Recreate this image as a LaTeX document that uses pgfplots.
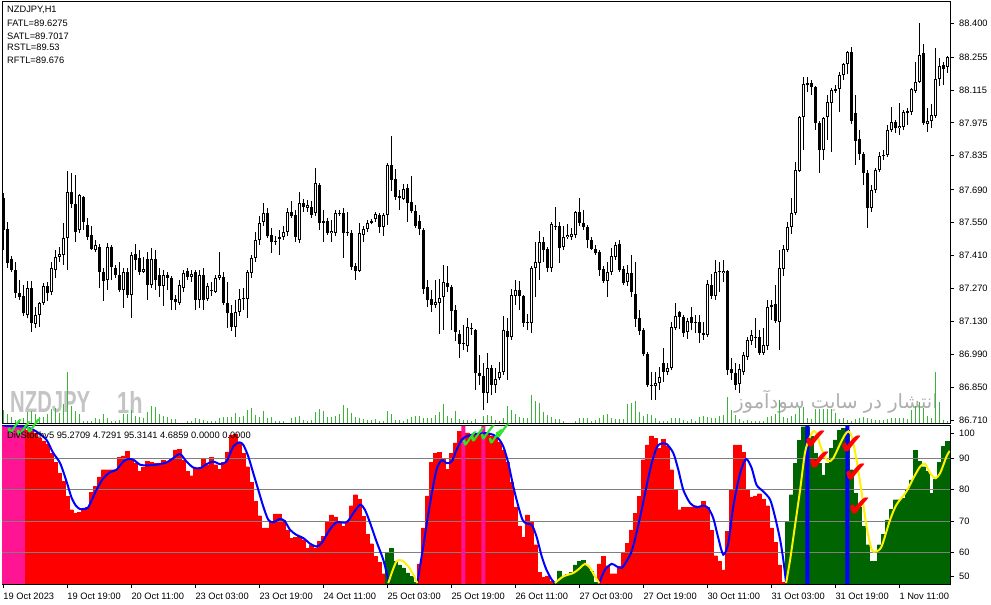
\documentclass[border=0pt]{standalone}
\usepackage{graphicx}
\usepackage{fontspec}
\setmainfont{Liberation Sans}
\newfontfamily\dejavu{DejaVu Sans}
\newfontfamily\arabicfont[Script=Arabic]{DejaVu Sans}
\TeXXeTstate=1
\usepackage{pgfplots}
\usepackage{pgfplotstable}
\pgfplotsset{compat=1.18}
\definecolor{volgreen}{RGB}{60,180,60}
\definecolor{dgreen}{RGB}{0,100,0}
\definecolor{dpink}{RGB}{255,20,147}
\definecolor{lvlgray}{RGB}{128,128,128}
\definecolor{wm}{RGB}{196,196,196}
\definecolor{wm2}{RGB}{175,175,175}
\definecolor{chkgreen}{RGB}{40,230,40}
\newcommand\tf{\fontsize{9.3bp}{11bp}\selectfont}

\pgfplotstableread{
i o h l c v
0 87.656 87.676 87.434 87.519 140
1 87.523 87.552 87.358 87.378 100
2 87.395 87.408 87.340 87.349 70
3 87.349 87.383 87.230 87.250 40
4 87.250 87.306 87.221 87.234 50
5 87.238 87.285 87.153 87.165 60
6 87.157 87.302 87.144 87.272 120
7 87.272 87.302 87.084 87.123 130
8 87.119 87.191 87.102 87.157 100
9 87.157 87.212 87.106 87.208 70
10 87.208 87.293 87.199 87.281 70
11 87.281 87.298 87.217 87.250 100
12 87.255 87.383 87.242 87.358 150
13 87.349 87.434 87.315 87.404 160
14 87.404 87.447 87.383 87.417 110
15 87.413 87.549 87.370 87.485 200
16 87.485 87.770 87.349 87.681 520
17 87.681 87.762 87.613 87.630 180
18 87.630 87.753 87.468 87.510 130
19 87.519 87.672 87.506 87.668 100
20 87.660 87.664 87.519 87.553 30
21 87.540 87.570 87.476 87.489 30
22 87.498 87.536 87.434 87.438 30
23 87.434 87.476 87.425 87.455 60
24 87.447 87.459 87.272 87.340 50
25 87.340 87.358 87.217 87.302 100
26 87.306 87.464 87.263 87.447 60
27 87.447 87.455 87.306 87.362 30
28 87.358 87.370 87.315 87.328 30
29 87.328 87.383 87.255 87.263 40
30 87.263 87.358 87.187 87.340 100
31 87.340 87.358 87.230 87.242 100
32 87.242 87.425 87.144 87.413 140
33 87.417 87.459 87.349 87.391 80
34 87.400 87.434 87.328 87.340 70
35 87.340 87.404 87.336 87.353 60
36 87.395 87.425 87.221 87.285 120
37 87.285 87.442 87.272 87.395 180
38 87.395 87.434 87.263 87.306 170
39 87.328 87.358 87.234 87.281 100
40 87.281 87.349 87.195 87.328 80
41 87.328 87.340 87.263 87.315 70
42 87.315 87.323 87.178 87.221 50
43 87.225 87.242 87.178 87.212 50
44 87.208 87.306 87.199 87.285 10
45 87.272 87.349 87.255 87.336 10
46 87.345 87.358 87.306 87.319 30
47 87.319 87.349 87.298 87.332 30
48 87.340 87.349 87.178 87.221 60
49 87.221 87.349 87.187 87.328 50
50 87.328 87.358 87.178 87.221 40
51 87.225 87.293 87.217 87.281 30
52 87.263 87.298 87.238 87.259 30
53 87.255 87.328 87.250 87.315 30
54 87.315 87.425 87.306 87.328 60
55 87.319 87.340 87.199 87.208 70
56 87.208 87.298 87.102 87.165 70
57 87.165 87.199 87.089 87.106 70
58 87.106 87.221 87.063 87.170 110
59 87.170 87.268 87.153 87.225 70
60 87.225 87.272 87.178 87.230 80
61 87.225 87.349 87.144 87.340 140
62 87.336 87.413 87.315 87.400 160
63 87.400 87.510 87.383 87.476 90
64 87.476 87.578 87.455 87.549 70
65 87.553 87.634 87.536 87.591 130
66 87.591 87.613 87.485 87.493 60
67 87.498 87.527 87.421 87.468 70
68 87.472 87.493 87.455 87.468 30
69 87.481 87.519 87.413 87.489 30
70 87.489 87.536 87.476 87.510 30
71 87.510 87.613 87.493 87.596 10
72 87.596 87.643 87.570 87.578 60
73 87.583 87.604 87.468 87.489 70
74 87.476 87.681 87.464 87.634 80
75 87.634 87.651 87.596 87.617 40
76 87.613 87.647 87.596 87.626 30
77 87.617 87.643 87.570 87.583 40
78 87.591 87.783 87.578 87.719 120
79 87.711 87.719 87.519 87.549 150
80 87.557 87.604 87.468 87.549 130
81 87.557 87.570 87.498 87.506 70
82 87.506 87.561 87.468 87.515 70
83 87.506 87.604 87.493 87.591 80
84 87.591 87.604 87.578 87.587 100
85 87.591 87.613 87.400 87.506 190
86 87.510 87.596 87.493 87.506 160
87 87.506 87.519 87.349 87.362 110
88 87.366 87.378 87.306 87.345 70
89 87.345 87.549 87.340 87.506 60
90 87.498 87.536 87.468 87.523 50
91 87.523 87.561 87.510 87.549 40
92 87.557 87.566 87.544 87.549 40
93 87.566 87.596 87.553 87.587 50
94 87.583 87.591 87.506 87.532 30
95 87.532 87.591 87.493 87.583 30
96 87.583 87.804 87.540 87.796 130
97 87.796 87.919 87.685 87.732 100
98 87.736 87.779 87.647 87.660 40
99 87.664 87.689 87.604 87.656 40
100 87.651 87.715 87.647 87.694 30
101 87.698 87.715 87.553 87.634 50
102 87.638 87.749 87.591 87.600 70
103 87.600 87.626 87.527 87.536 80
104 87.557 87.583 87.498 87.523 80
105 87.519 87.527 87.246 87.268 60
106 87.276 87.306 87.191 87.221 60
107 87.225 87.263 87.170 87.199 60
108 87.199 87.306 87.187 87.212 90
109 87.208 87.310 87.076 87.230 120
110 87.234 87.370 87.093 87.298 200
111 87.293 87.366 87.255 87.276 80
112 87.276 87.285 87.093 87.174 60
113 87.178 87.199 87.046 87.085 130
114 87.076 87.093 86.974 87.034 50
115 87.038 87.115 87.008 87.034 40
116 87.025 87.144 87.000 87.106 40
117 87.102 87.123 87.072 87.097 30
118 87.093 87.097 86.838 86.910 50
119 86.910 86.987 86.859 86.897 10
120 86.897 86.953 86.752 86.825 80
121 86.825 86.995 86.782 86.932 90
122 86.932 86.944 86.816 86.859 80
123 86.859 86.932 86.825 86.885 40
124 86.889 86.957 86.880 86.914 30
125 86.914 87.153 86.902 87.093 60
126 87.089 87.144 86.880 87.063 180
127 87.063 87.268 87.051 87.242 140
128 87.238 87.306 87.199 87.263 100
129 87.263 87.302 87.178 87.238 70
130 87.238 87.242 87.106 87.123 60
131 87.127 87.161 87.093 87.123 60
132 87.123 87.366 87.080 87.358 290
133 87.358 87.468 87.234 87.383 230
134 87.379 87.515 87.306 87.468 210
135 87.468 87.489 87.383 87.434 120
136 87.438 87.447 87.340 87.358 90
137 87.358 87.553 87.340 87.544 70
138 87.536 87.617 87.519 87.532 50
139 87.536 87.553 87.378 87.442 50
140 87.447 87.536 87.434 87.489 30
141 87.489 87.544 87.481 87.498 10
142 87.489 87.527 87.476 87.502 10
143 87.498 87.600 87.485 87.596 30
144 87.596 87.655 87.536 87.549 60
145 87.549 87.604 87.519 87.532 60
146 87.532 87.540 87.442 87.476 60
147 87.476 87.489 87.434 87.438 30
148 87.438 87.455 87.413 87.421 40
149 87.425 87.434 87.323 87.349 60
150 87.353 87.366 87.293 87.302 90
151 87.302 87.383 87.234 87.340 100
152 87.340 87.442 87.328 87.408 60
153 87.404 87.468 87.391 87.455 50
154 87.459 87.476 87.340 87.349 50
155 87.353 87.366 87.285 87.293 50
156 87.298 87.370 87.281 87.336 200
157 87.336 87.413 87.234 87.255 210
158 87.246 87.383 87.106 87.140 230
159 87.144 87.178 87.072 87.089 120
160 87.093 87.102 86.982 86.991 80
161 86.991 87.000 86.850 86.859 100
162 86.859 86.914 86.795 86.855 90
163 86.855 86.914 86.795 86.868 60
164 86.868 86.936 86.838 86.893 30
165 86.953 87.017 86.872 86.914 30
166 86.914 86.953 86.902 86.932 30
167 86.932 87.127 86.923 87.106 60
168 87.102 87.208 87.093 87.153 60
169 87.170 87.174 87.097 87.149 60
170 87.149 87.157 87.063 87.080 40
171 87.085 87.144 87.055 87.131 30
172 87.149 87.191 87.093 87.123 50
173 87.123 87.157 87.080 87.127 30
174 87.127 87.157 87.038 87.080 70
175 87.080 87.127 87.051 87.072 80
176 87.072 87.306 87.063 87.289 70
177 87.285 87.332 87.225 87.238 60
178 87.238 87.391 87.221 87.340 60
179 87.340 87.383 87.255 87.345 80
180 87.336 87.391 87.298 87.345 90
181 87.345 87.349 86.902 86.923 270
182 86.927 86.974 86.880 86.910 140
183 86.910 86.953 86.838 86.859 90
184 86.863 86.948 86.825 86.927 50
185 86.914 87.000 86.902 86.987 30
186 86.978 87.063 86.966 87.051 40
187 87.046 87.093 87.029 87.072 30
188 87.063 87.144 87.017 87.059 30
189 87.063 87.093 86.987 86.995 30
190 86.995 87.102 86.987 87.029 30
191 87.025 87.221 87.008 87.191 70
192 87.191 87.221 87.136 87.199 80
193 87.204 87.285 87.123 87.131 100
194 87.127 87.434 87.008 87.358 240
195 87.353 87.455 87.323 87.438 70
196 87.434 87.553 87.425 87.532 60
197 87.532 87.655 87.502 87.591 80
198 87.591 87.808 87.583 87.774 100
199 87.770 88.004 87.766 88.000 160
200 88.000 88.170 87.859 88.140 170
201 88.145 88.170 88.106 88.136 60
202 88.145 88.157 88.094 88.128 50
203 88.128 88.132 87.945 87.974 150
204 87.974 87.983 87.762 87.859 150
205 87.859 88.000 87.817 87.996 150
206 88.000 88.094 87.902 88.064 150
207 88.060 88.123 87.851 88.115 150
208 88.111 88.136 88.102 88.119 110
209 88.119 88.191 88.021 88.179 50
210 88.179 88.230 88.157 88.226 60
211 88.226 88.281 88.183 88.277 40
212 88.277 88.298 87.970 87.983 30
213 88.017 88.094 87.796 87.898 50
214 87.906 87.945 87.817 87.842 60
215 87.842 87.851 87.710 87.762 70
216 87.762 87.774 87.527 87.613 60
217 87.613 87.710 87.596 87.689 50
218 87.689 87.783 87.676 87.774 40
219 87.774 87.851 87.766 87.834 40
220 87.834 87.859 87.817 87.838 40
221 87.838 87.966 87.830 87.945 50
222 87.945 88.043 87.936 87.979 60
223 87.979 87.987 87.932 87.953 60
224 87.953 88.060 87.923 87.962 60
225 87.957 88.030 87.945 88.021 60
226 88.025 88.038 87.966 88.017 50
227 88.021 88.123 88.008 88.119 140
228 88.111 88.234 88.102 88.149 180
229 88.149 88.400 88.145 88.264 220
230 88.272 88.311 87.966 87.974 160
231 87.970 88.038 87.936 87.983 80
232 87.983 88.055 87.953 88.008 60
233 88.004 88.294 87.996 88.162 520
234 88.162 88.251 88.132 88.217 220
235 88.221 88.234 88.136 88.204 40
236 88.213 88.260 88.187 88.255 30
}\ohlc

\pgfplotstableread{
i val
6 99
7 98.5
8 98
9 96.5
10 95.5
11 94.5
12 91.6
13 88.6
14 85.2
15 82.6
16 77.8
17 73.6
18 72.5
19 72.8
20 74.1
21 74.4
22 79.1
23 81
24 84
25 86.3
26 86.3
27 86.3
28 86.3
29 90.3
30 90.7
31 92.1
32 89.7
33 88.4
34 85.8
35 87.1
36 88.9
37 88.6
38 88.4
39 88.4
40 89.3
41 88.6
42 90
43 92.6
44 92.8
45 89.3
46 85.8
47 84.4
48 86.8
49 86.8
50 89.7
51 87.9
52 90.3
53 87.9
54 86.5
55 88.6
56 92
57 97.4
58 97.7
59 94.8
60 91.6
61 87.3
62 82.3
63 76.2
64 71.7
65 67.8
66 67.8
67 69.6
68 72.3
69 72.3
70 70.4
71 67.2
72 64.6
73 64.8
74 65.1
75 64.1
76 61.4
77 62.5
78 61.4
79 63.5
80 65.1
81 69.9
82 72
83 71.3
84 69.4
85 68.3
86 69.6
87 74.9
88 78.4
89 77
90 71.5
91 65.7
92 62.8
93 58.8
94 56.9
95 53.3
104 56.4
105 67.8
106 78
107 88.6
108 91.6
109 91.8
110 89.7
111 86.5
112 91.6
113 94.8
114 98.5
115 98
116 98
117 97.7
118 97.4
119 98
120 98.1
121 97.7
122 97.1
123 96.3
124 95
125 92.4
126 88.6
127 82.3
128 74.4
129 68.5
130 64.9
131 72
132 69.6
133 62.5
134 53.7
135 52.2
136 52.6
137 50.8
149 56.4
150 58.8
151 55.8
152 53.3
153 53.3
154 55.6
155 60
156 63
157 67.2
158 72.5
159 77.8
160 89.5
161 94.2
162 97.1
163 96.3
164 93.2
165 96
166 93.7
167 86.3
168 80
169 73.6
170 74.4
171 74.4
172 74.4
173 74.9
174 74.4
175 76.2
176 74.4
177 67
178 59
179 57.2
180 54.5
181 66.7
182 79.7
183 94.2
184 94.2
185 91.8
186 79.7
187 77.6
188 78
189 78.7
190 77
191 74.9
192 67.8
193 63.2
194 56.1
195 50.5
}\redbars

\pgfplotstableread{
i val
96 60
97 61.4
98 57.2
99 56.1
100 55.1
101 53.5
102 52.4
103 50.5
138 50.5
139 54.2
140 52.4
141 53
142 53.7
143 56.1
144 57.2
145 57.5
146 55.8
147 54
148 50.5
196 69.9
197 78.4
198 88.4
199 95.6
200 100
201 100
202 96.9
203 91.6
204 88.4
205 84.7
206 88.4
207 93.2
208 95.8
209 98.8
210 99.5
211 99
212 86.3
213 78.9
214 74.4
215 68.3
216 62.5
217 57.2
218 57.2
219 62.5
220 65.7
221 70.4
222 73.8
223 76.8
224 76.8
225 77.3
226 80
227 83.1
228 92.4
229 88.9
230 87.3
231 85.8
232 78.9
233 83.3
234 88.6
235 93.7
236 95.3
}\greenbars

\begin{document}
\begin{tikzpicture}
\useasboundingbox (0,0) rectangle (991bp,605bp);
\fill[white] (0,0) rectangle (991bp,605bp);
% watermarks
\node[anchor=west, text=wm, inner sep=0pt] at (10bp,202.5bp) {\scalebox{0.7}[1.05]{\fontsize{29bp}{30bp}\selectfont\bfseries NZDJPY}};
\node[anchor=west, text=wm, inner sep=0pt] at (117bp,202.5bp) {\scalebox{0.75}[1.05]{\fontsize{29bp}{30bp}\selectfont\bfseries 1h}};
\node[text=wm2, inner sep=0pt] at (836bp,203bp) {\arabicfont\fontsize{19.5bp}{20bp}\selectfont\beginR انتشار در سایت سودآموز\endR};

% volume
\begin{axis}[at={(2bp,181bp)}, anchor=south west, scale only axis, width=948bp, height=422bp,
  xmin=-0.325, xmax=236.675, ymin=0, ymax=4220, hide axis, clip=true]
\addplot[ycomb, draw=volgreen, line width=1bp, mark=none] table[x=i,y=v]{\ohlc};
\end{axis}

% candles
\begin{axis}[at={(2bp,181bp)}, anchor=south west, scale only axis, width=948bp, height=422bp,
  xmin=-0.325, xmax=236.675, ymin=86.693, ymax=88.4895,
  xtick=\empty, ytick pos=right, yticklabel pos=right,
  ytick={86.71,86.85,86.99,87.13,87.27,87.41,87.55,87.69,87.835,87.975,88.115,88.255,88.4},
  yticklabels={86.710,86.850,86.990,87.130,87.270,87.410,87.550,87.690,87.835,87.975,88.115,88.255,88.400},
  tick align=outside, major tick length=4bp, tick style={black, line width=0.8bp},
  yticklabel style={font=\tf, anchor=west, inner sep=0pt, xshift=5bp},
  axis line style={line width=1bp}, clip=true]
\addplot[draw=none, mark=none, forget plot, error bars/.cd, y dir=plus, y explicit, error mark=none,
  error bar style={draw=black, line width=1bp, solid}]
  table[x=i, y=l, y error plus expr={\thisrow{h}-\thisrow{l}}]{\ohlc};
\addplot[draw=none, mark=none, forget plot, error bars/.cd, y dir=plus, y explicit, error mark=none,
  error bar style={draw=black, line width=3bp, solid}]
  table[x=i, y expr={min(\thisrow{o},\thisrow{c})}, y error plus expr={abs(\thisrow{c}-\thisrow{o})}]{\ohlc};
\addplot[draw=none, mark=none, forget plot, error bars/.cd, y dir=plus, y explicit, error mark=none,
  error bar style={draw=white, line width=1bp, solid}]
  table[x=i, y expr={min(\thisrow{o},\thisrow{c})+0.00426}, y error plus expr={(\thisrow{c}>\thisrow{o})*max(\thisrow{c}-\thisrow{o}-0.0085,0)}]{\ohlc};
\end{axis}

% oscillator
\begin{axis}[at={(2bp,21bp)}, anchor=south west, scale only axis, width=948bp, height=158bp,
  xmin=-0.325, xmax=236.675, ymin=50, ymax=100.2,
  xtick={0,16,32,48,64,80,96,112,128,144,160,176,192,208,224},
  xticklabels={19 Oct 2023,19 Oct 19:00,20 Oct 11:00,23 Oct 03:00,23 Oct 19:00,24 Oct 11:00,25 Oct 03:00,25 Oct 19:00,26 Oct 11:00,27 Oct 03:00,27 Oct 19:00,30 Oct 11:00,31 Oct 03:00,31 Oct 19:00,1 Nov 11:00},
  ytick={52.3,60,70,80,90,98}, yticklabels={50,60,70,80,90,100},
  xtick pos=left, ytick pos=right, yticklabel pos=right,
  tick align=outside, major tick length=4bp, tick style={black, line width=0.8bp},
  xticklabel style={font=\tf, anchor=north west, inner sep=0pt, yshift=-5bp},
  yticklabel style={font=\tf, anchor=west, inner sep=0pt, xshift=5bp},
  axis line style={line width=1bp}, clip=true]
\addplot[ybar, bar width=1, bar shift=0pt, fill=dpink, draw=dpink, line width=0.2bp, forget plot]
  coordinates {(0,100.2) (1,100.2) (2,100.2) (3,100.2) (4,100.2) (5,100.2)};
\addplot[ybar, bar width=1, bar shift=0pt, fill=red, draw=red, line width=0.2bp, forget plot]
  table[x=i,y=val]{\redbars};
\addplot[ybar, bar width=1, bar shift=0pt, fill=dgreen, draw=dgreen, line width=0.2bp, forget plot]
  table[x=i,y=val]{\greenbars};
\addplot[lvlgray, line width=1bp, forget plot] coordinates {(-1,60) (238,60)};
\addplot[lvlgray, line width=1bp, forget plot] coordinates {(-1,70) (238,70)};
\addplot[lvlgray, line width=1bp, forget plot] coordinates {(-1,80) (238,80)};
\addplot[lvlgray, line width=1bp, forget plot] coordinates {(-1,90) (238,90)};
\addplot[ybar, bar width=1, bar shift=0pt, fill=dpink, draw=none, forget plot]
  coordinates {(115,100.2) (120,100.2)};
\addplot[ybar, bar width=1, bar shift=0pt, fill=blue, draw=none, forget plot]
  coordinates {(201,100.2) (211,100.2)};
% blue signal line
\addplot[blue, line width=2bp, smooth, tension=0.45, mark=none] coordinates {
(0,100.3) (2,100.2) (4,100.1) (5.4,100) (7.5,99) (9,97.8) (10.8,95.8) (12.5,91.6) (14.2,88.4) (15.8,82.6) (17.1,77.3) (18.2,74.8) (19.2,73.8) (20.2,73.9) (21.25,74.4) (23.3,79.9) (25,83.6) (26.7,85.5) (28.3,86.3) (30,88.9) (31.25,89.7) (32.5,89.5) (34.2,87.9) (35.8,87.7) (38.3,87.9) (40.8,88.6) (42.5,90) (44.2,91.3) (45.8,88.9) (47.5,87) (49.2,86.8) (50.8,88.1) (52.5,88.9) (54.2,88.1) (55.8,88.9) (57.5,93.7) (59,95) (60,94.2) (61.25,90.5) (62.5,85.2) (63.75,79.9) (65,74.6) (66.25,70.4) (67.5,69.6) (69.2,70.7) (70.4,69.9) (71.7,67.2) (73.3,65.6) (75,64.6) (76.7,62.8) (78.3,61.9) (79.6,63) (80.8,65.6) (81.7,67.4) (83.3,69.6) (85.8,69.6) (87.5,72.5) (89.2,75.2) (90.4,73.6) (91.7,69.4) (93.3,63.5) (95,57.7) (96.25,51.4) (96.7,50.3)};
\addplot[blue, line width=2bp, smooth, tension=0.45, mark=none] coordinates {
(103.5,50.3) (105,62) (106.7,75.7) (108.3,86.3) (109.6,89.3) (110.8,88.4) (112.1,88.9) (113.3,92.6) (114.6,95.8) (115.8,96.9) (118.3,97.7) (120.8,97.9) (122.5,97.4) (123.75,96.3) (125,93.7) (126.25,88.4) (127.5,81) (128.75,74.7) (129.8,70.4) (130.8,69.2) (132.1,68.8) (133.3,65.1) (134.6,58.8) (135.8,54.5) (137.1,51.4) (137.9,50.3)};
\addplot[blue, line width=2bp, smooth, tension=0.45, mark=none] coordinates {
(149,50.3) (150.4,54.5) (152.1,56.4) (153.3,55.6) (154.6,55.1) (155.8,57.2) (157.1,60.4) (158.3,66.2) (159.6,73.6) (160.8,81) (162.1,88.4) (163.3,93.2) (164.2,94.5) (165.8,94.5) (167.5,91.6) (168.75,86.3) (170,79.9) (171.7,75.7) (173.3,74.4) (175,74.9) (176.25,74.1) (177.5,70.9) (178.75,64.6) (180,59.3) (181.25,63) (182.5,74.7) (184.2,85.2) (185.7,89.7) (187.1,86.8) (188.3,81.5) (190,79.4) (191.7,76.8) (192.9,71.5) (194.2,64.1) (195,57.7) (195.7,50.3)};
% yellow line
\addplot[yellow, line width=2bp, smooth, tension=0.45, mark=none] coordinates {
(96.25,50.3) (97.1,53.5) (98.3,57.2) (99.6,57.5) (101.25,55.6) (102.5,53) (103.5,50.3)};
\addplot[yellow, line width=2bp, smooth, tension=0.45, mark=none] coordinates {
(137.9,50.3) (140,52.4) (142.5,53.5) (144.2,55.1) (145.4,56.4) (146.7,55.1) (147.9,52.4) (149,50.3)};
\addplot[yellow, line width=2bp, smooth, tension=0.45, mark=none] coordinates {
(195.7,50.3) (196.7,57.7) (197.9,68.3) (199.2,79.9) (200.4,91.6) (201.5,96.3) (202.5,98.5) (203.3,97.9) (204.2,94.2) (205.2,91) (206.25,88.9) (207.5,90) (209.2,94.5) (210.4,97.4) (211.25,98.5) (212.1,96.9) (213.3,89.5) (214.6,78.9) (215.8,68.3) (217.1,60.9) (218.3,60.4) (219.6,62) (221.7,70.4) (223.3,75.2) (225.8,79.4) (227.5,83.6) (229.2,87.3) (230.4,88.2) (231.7,85.2) (233,83.6) (234.2,85.2) (235.8,90.5) (236.6,92.3)};
% arrows
\addplot[only marks, mark=*, mark options={draw=none, fill=none}, mark size=0.1pt,
  nodes near coords={\scalebox{1.9}{\dejavu ✓}},
  every node near coord/.append style={font=\fontsize{14bp}{14bp}\selectfont, text=chkgreen, anchor=center, inner sep=0pt}]
  coordinates {(2.9,99.6) (5.2,99) (7.7,99.9) (116.7,95.8) (118.7,97.1) (121.2,97.7) (123.2,96.4) (124.9,98.4)};
\addplot[only marks, mark=*, mark options={draw=none, fill=none}, mark size=0.1pt,
  nodes near coords={\scalebox{2.1}{\dejavu ✔}},
  every node near coord/.append style={font=\fontsize{14bp}{14bp}\selectfont, text=red, anchor=center, inner sep=0pt}]
  coordinates {(203.2,95.8) (204.2,89.1) (212.2,94.2) (213.2,85.3) (214.2,74.5)};
\end{axis}

% texts
\node[anchor=west, inner sep=0pt, font=\tf] at (7bp,595bp) {NZDJPY,H1};
\node[anchor=west, inner sep=0pt, font=\tf] at (7bp,581.5bp) {FATL=89.6275};
\node[anchor=west, inner sep=0pt, font=\tf] at (7bp,569bp) {SATL=89.7017};
\node[anchor=west, inner sep=0pt, font=\tf] at (7bp,557.5bp) {RSTL=89.53};
\node[anchor=west, inner sep=0pt, font=\tf] at (7bp,545bp) {RFTL=89.676};
\node[anchor=west, inner sep=0pt, font=\tf] at (7bp,170bp) {DivStochv5 95.2709 4.7291 95.3141 4.6859 0.0000 0.0000};
\end{tikzpicture}
\end{document}
